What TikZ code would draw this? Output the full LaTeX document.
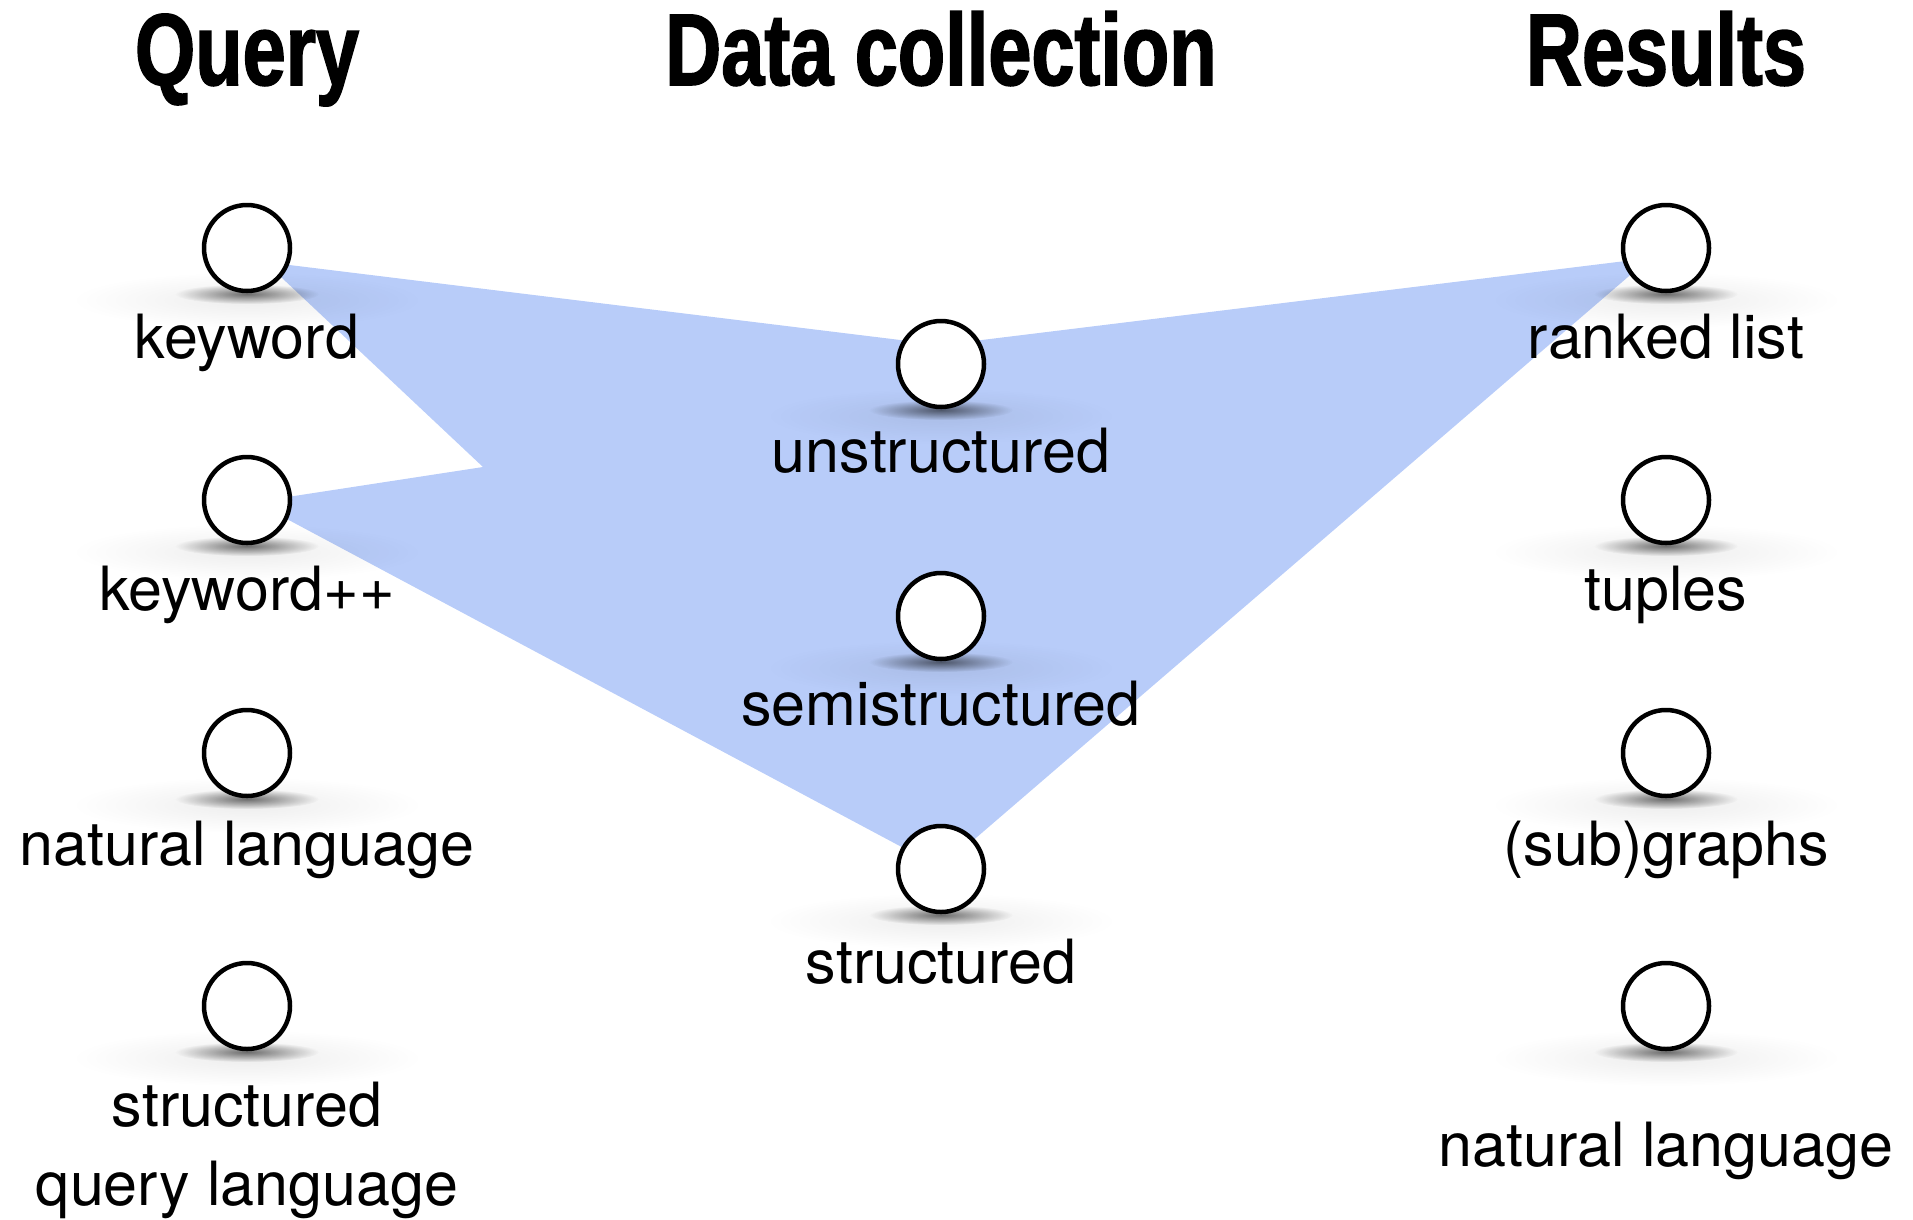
\documentclass[tikz,border=0pt]{standalone}
\usepackage{fontspec}
\setmainfont{TeX Gyre Heros}
\newfontfamily\hdrfont{Liberation Sans}[FakeStretch=0.76,FakeBold=1.5]
\usetikzlibrary{fadings}
\tikzfading[name=softfade, inner color=transparent!0, outer color=transparent!100]
\definecolor{polyblue}{RGB}{184,204,249}
\tikzset{
  dot/.style={circle, draw=black, fill=white, line width=4.5pt, minimum size=86pt, inner sep=0pt},
  lbl/.style={anchor=base, inner sep=0pt, font=\fontsize{61}{79}\selectfont, align=center},
  hdr/.style={anchor=base, inner sep=0pt, font=\hdrfont\bfseries\fontsize{102}{110}\selectfont},
  shcore/.style={fill=black, opacity=0.55, path fading=softfade},
  shhalo/.style={fill=black, opacity=0.07, path fading=softfade},
}
\newcommand{\dotshadow}[2]{%
  \fill[shhalo] (#1,#2+52) ellipse [x radius=175pt, y radius=28pt];
  \fill[shcore] (#1,#2+46) ellipse [x radius=72pt, y radius=10pt];
}
\begin{document}
\begin{tikzpicture}[x=1pt,y=-1pt]
\useasboundingbox (0,0) rectangle (1913,1219);
% headers
\node[hdr] (hq) at (247,85) {Query};
\node[hdr] (hd) at (941,85) {Data collection};
\node[hdr] (hr) at (1666,85) {Results};
% polygon
\coordinate (p1) at (265,262);
\coordinate (p2) at (941,345);
\coordinate (p3) at (1650,258);
\coordinate (p4) at (941,868);
\coordinate (p5) at (255,502);
\coordinate (p6) at (483,467);
\fill[polyblue] (p1) -- (p2) -- (p3) -- (p4) -- (p5) -- (p6) -- cycle;
% shadows
\foreach \yy in {248,500,753,1006} {\dotshadow{247}{\yy}\dotshadow{1666}{\yy}}
\foreach \yy in {364,616,869} {\dotshadow{941}{\yy}}
% circles
\node[dot] (q1) at (247,248) {};
\node[dot] (q2) at (247,500) {};
\node[dot] (q3) at (247,753) {};
\node[dot] (q4) at (247,1006) {};
\node[dot] (d1) at (941,364) {};
\node[dot] (d2) at (941,616) {};
\node[dot] (d3) at (941,869) {};
\node[dot] (r1) at (1666,248) {};
\node[dot] (r2) at (1666,500) {};
\node[dot] (r3) at (1666,753) {};
\node[dot] (r4) at (1666,1006) {};
% labels
\node[lbl] (lq1) at (247,358) {keyword};
\node[lbl] (lq2) at (247,610) {keyword++};
\node[lbl] (lq3) at (247,865) {natural language};
\node[lbl] (lq4) at (247,1205) {structured\\query language};
\node[lbl] (ld1) at (941,472) {unstructured};
\node[lbl] (ld2) at (941,725) {semistructured};
\node[lbl] (ld3) at (941,983) {structured};
\node[lbl] (lr1) at (1666,358) {ranked list};
\node[lbl] (lr2) at (1666,610) {tuples};
\node[lbl] (lr3) at (1666,865) {(sub)graphs};
\node[lbl] (lr4) at (1666,1166) {natural language};
\end{tikzpicture}
\end{document}
